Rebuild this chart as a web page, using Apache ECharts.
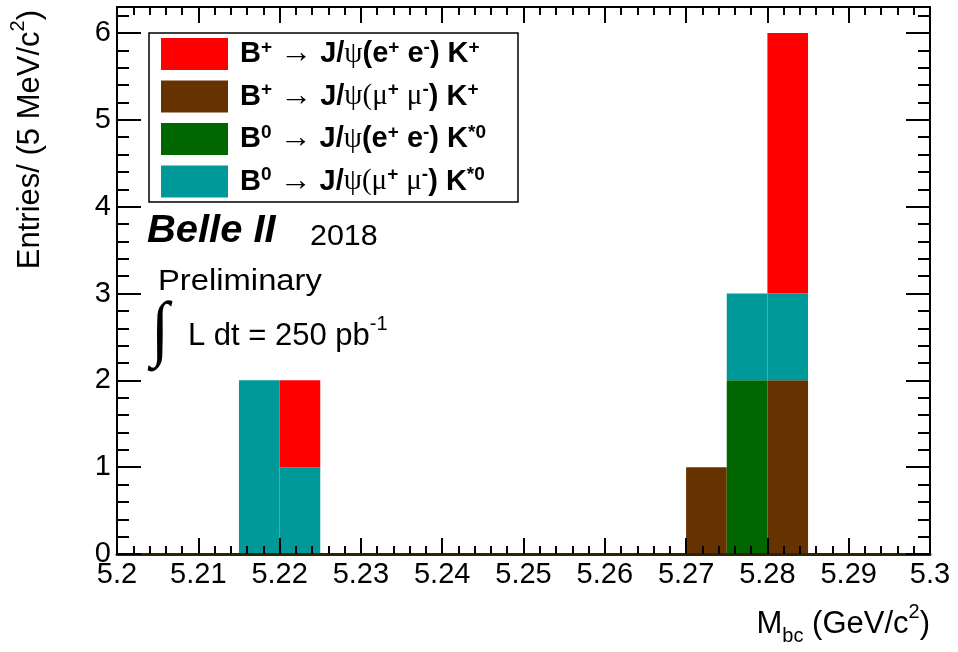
<!DOCTYPE html>
<html><head><meta charset="utf-8">
<script src="https://cdn.jsdelivr.net/npm/echarts@6/dist/echarts.min.js"></script>
<style>html,body{margin:0;padding:0;background:#fff}#c{width:958px;height:652px}</style>
</head><body><div id="c"></div>
<script>
// ---- data ----
const binLow = [5.200,5.205,5.210,5.215,5.220,5.225,5.230,5.235,5.240,5.245,
                5.250,5.255,5.260,5.265,5.270,5.275,5.280,5.285,5.290,5.295];
const binWidth = 0.005;
const bpEE   = [0,0,0,0,1,0,0,0,0,0,0,0,0,0,0,0,3,0,0,0];
const bpMuMu = [0,0,0,0,0,0,0,0,0,0,0,0,0,0,1,0,2,0,0,0];
const b0EE   = [0,0,0,0,0,0,0,0,0,0,0,0,0,0,0,2,0,0,0,0];
const b0MuMu = [0,0,0,2,1,0,0,0,0,0,0,0,0,0,0,1,1,0,0,0];
const xRange = [5.2, 5.3];
const yRange = [0, 6.3];
const seriesNames = ['B⁺ → J/ψ(e⁺ e⁻) K⁺', 'B⁺ → J/ψ(μ⁺ μ⁻) K⁺', 'B⁰ → J/ψ(e⁺ e⁻) K*⁰', 'B⁰ → J/ψ(μ⁺ μ⁻) K*⁰'];
const seriesColors = ['#ff0000', '#663300', '#006600', '#009999'];
const seriesValues = [bpEE, bpMuMu, b0EE, b0MuMu];
const stackOrder = [1, 2, 3, 0]; // bottom -> top

const legendRich = {
  [seriesNames[0]]: '{b0|B}{s|+}{b| }{a|→}{b| J/}{g|ψ}{b|(e}{s|+}{b| e}{s|-}{b|) K}{s|+}',
  [seriesNames[1]]: '{b0|B}{s|+}{b| }{a|→}{b| J/}{g|ψ(μ}{s|+}{b| }{g|μ}{s|-}{b|) K}{s|+}',
  [seriesNames[2]]: '{b0|B}{s|0}{b| }{a|→}{b| J/}{g|ψ}{b|(e}{s|+}{b| e}{s|-}{b|) K}{s|*0}',
  [seriesNames[3]]: '{b0|B}{s|0}{b| }{a|→}{b| J/}{g|ψ(μ}{s|+}{b| }{g|μ}{s|-}{b|) K}{s|*0}'
};

const SANS = "'Liberation Sans', Arial, Helvetica, sans-serif";
const SERIF = "'Liberation Serif', 'DejaVu Serif', serif";

// ---- build stacked rectangles ----
const base = binLow.map(() => 0);
const series = [];
stackOrder.forEach(k => {
  const vals = seriesValues[k];
  const data = [];
  vals.forEach((v, i) => {
    if (v > 0) data.push([binLow[i], binLow[i] + binWidth, base[i], base[i] + v]);
    base[i] += v;
  });
  series.push({
    type: 'custom', name: seriesNames[k], z: 2,
    itemStyle: { color: seriesColors[k] },
    encode: { x: [0, 1], y: [2, 3] },
    renderItem: function (params, api) {
      const p0 = api.coord([api.value(0), api.value(3)]);
      const p1 = api.coord([api.value(1), api.value(2)]);
      return { type: 'rect', shape: { x: p0[0], y: p0[1], width: p1[0] - p0[0], height: p1[1] - p0[1] },
               style: { fill: api.visual('color') } };
    },
    data: data
  });
});

const tickLine = { color: '#000', width: 2 };
function xAxis(pos, labels, lineColor, lineWidth) {
  return {
    type: 'value', position: pos, min: xRange[0], max: xRange[1], interval: 0.01, z: 6,
    axisLine: { show: true, onZero: false, lineStyle: { color: lineColor, width: lineWidth } },
    axisTick: { show: true, inside: true, length: 16, lineStyle: tickLine },
    minorTick: { show: true, splitNumber: 5, length: 8, lineStyle: tickLine },
    splitLine: { show: false }, minorSplitLine: { show: false },
    axisLabel: { show: labels, fontSize: 29, fontFamily: SANS, color: '#000', margin: 6 }
  };
}
function yAxis(pos, interval, len, labels, showLine) {
  return {
    type: 'value', position: pos, min: yRange[0], max: yRange[1], interval: interval, z: 6,
    axisLine: { show: showLine, onZero: false, lineStyle: { color: '#000', width: 2 } },
    axisTick: { show: true, inside: true, length: len, lineStyle: tickLine },
    splitLine: { show: false },
    axisLabel: { show: labels, fontSize: 29, fontFamily: SANS, color: '#000', margin: 6,
      formatter: v => (Math.abs(v - Math.round(v)) < 1e-9 ? String(Math.round(v)) : '') }
  };
}

const chart = echarts.init(document.getElementById('c'));
chart.setOption({
  animation: false,
  backgroundColor: '#fff',
  grid: { left: 117, right: 28, top: 7, bottom: 98, containLabel: false, outerBoundsMode: 'none' },
  xAxis: [xAxis('bottom', true, '#2e2600', 3), xAxis('top', false, '#000', 2)],
  yAxis: [yAxis('left', 1, 24, true, true), yAxis('left', 0.2, 12, false, false),
          yAxis('right', 1, 24, false, true), yAxis('right', 0.2, 12, false, false)],
  legend: {
    orient: 'vertical', left: 161, top: 38, padding: 0, itemGap: 10.5,
    itemWidth: 67, itemHeight: 32, selectedMode: false, z: 5,
    data: seriesNames.map((n, i) => ({ name: n, icon: 'rect', itemStyle: { color: seriesColors[i] } })),
    formatter: n => legendRich[n],
    textStyle: {
      rich: {
        b0: { fontFamily: SANS, fontWeight: 'bold', fontSize: 29, lineHeight: 32, color: '#000', padding: [0, 0, 0, 7] },
        b: { fontFamily: SANS, fontWeight: 'bold', fontSize: 29, lineHeight: 32, color: '#000' },
        s: { fontFamily: SANS, fontWeight: 'bold', fontSize: 19, lineHeight: 16, color: '#000', verticalAlign: 'top' },
        g: { fontFamily: SERIF, fontSize: 29, lineHeight: 32, color: '#000' },
        a: { fontFamily: SERIF, fontSize: 32, lineHeight: 32, color: '#000' }
      }
    }
  },
  graphic: [
    { type: 'rect', z: 3, shape: { x: 149, y: 33, width: 369, height: 169 },
      style: { fill: '#fff', stroke: '#000', lineWidth: 1.5 } },
    { type: 'text', x: 147, y: 232, scaleX: 1.05, z: 5,
      style: { text: 'Belle II', fontFamily: SANS, fontWeight: 'bold', fontStyle: 'italic', fontSize: 38,
               fill: '#000', align: 'left', verticalAlign: 'middle' } },
    { type: 'text', x: 310, y: 237, scaleX: 1.05, z: 5,
      style: { text: '2018', fontFamily: SANS, fontSize: 29, fill: '#000', align: 'left', verticalAlign: 'middle' } },
    { type: 'text', x: 158, y: 282, scaleX: 1.13, z: 5,
      style: { text: 'Preliminary', fontFamily: SANS, fontSize: 29, fill: '#000', align: 'left', verticalAlign: 'middle' } },
    { type: 'text', x: 151, y: 333, scaleY: 1.1, z: 5,
      style: { text: '∫', fontFamily: SERIF, fontSize: 66, fill: '#000', align: 'left', verticalAlign: 'middle' } },
    { type: 'text', x: 188, y: 336, z: 5,
      style: { text: '{t|L dt = 250 pb}{s|-1}', fill: '#000', align: 'left', verticalAlign: 'middle',
        rich: { t: { fontFamily: SANS, fontSize: 31, lineHeight: 44 },
                s: { fontFamily: SANS, fontSize: 20, lineHeight: 20, verticalAlign: 'top' } } } },
    { type: 'text', x: 930, y: 624, z: 5,
      style: { text: '{t|M}{d|bc}{t| (GeV/c}{s|2}{t|)}', fill: '#000', align: 'right', verticalAlign: 'middle',
        rich: { t: { fontFamily: SANS, fontSize: 31, lineHeight: 44 },
                d: { fontFamily: SANS, fontSize: 20, lineHeight: 20, verticalAlign: 'bottom' },
                s: { fontFamily: SANS, fontSize: 20, lineHeight: 24, verticalAlign: 'top' } } } },
    { type: 'text', x: 30, y: 10, rotation: Math.PI / 2, z: 5,
      style: { text: '{t|Entries/ (5 MeV/c}{s|2}{t|)}', fill: '#000', align: 'right', verticalAlign: 'middle',
        rich: { t: { fontFamily: SANS, fontSize: 31, lineHeight: 44 },
                s: { fontFamily: SANS, fontSize: 20, lineHeight: 24, verticalAlign: 'top' } } } }
  ],
  series: series
});
</script></body></html>
